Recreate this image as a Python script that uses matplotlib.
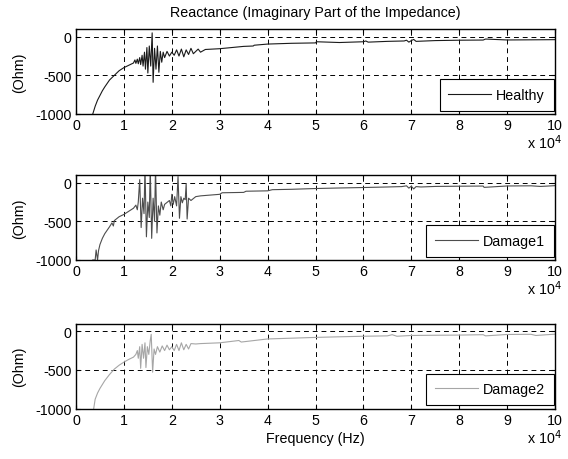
import matplotlib
matplotlib.use("Agg")
import matplotlib.pyplot as plt
from matplotlib.ticker import FixedLocator

plt.rcParams['font.family'] = ['Liberation Sans', 'DejaVu Sans']

# Frequencies in units of 1e4 Hz, reactance in Ohm
healthy_f = [0.35, 0.40, 0.45, 0.50, 0.55, 0.60, 0.70, 0.80, 0.90, 1.00, 1.10,
             1.20, 1.23, 1.25, 1.28, 1.30, 1.33, 1.35, 1.38, 1.40, 1.43, 1.45,
             1.48, 1.50, 1.53, 1.56, 1.59, 1.61, 1.64, 1.67, 1.70, 1.73, 1.76,
             1.79, 1.82, 1.85, 1.90, 1.95, 2.00, 2.05, 2.10, 2.15, 2.20, 2.25,
             2.30, 2.35, 2.40, 2.45, 2.55, 2.60, 2.70, 3.00, 3.50, 3.70, 3.72,
             4.00, 4.50, 5.00, 5.02, 5.50, 6.00, 6.05, 6.10, 6.50, 6.85, 6.90,
             6.95, 7.00, 7.05, 7.10, 7.50, 8.00, 8.50, 8.55, 9.00, 9.50, 10.0]
healthy_z = [-1000, -900, -820, -760, -700, -650, -560, -500, -440, -400, -370,
             -340, -300, -345, -290, -350, -270, -360, -240, -380, -200, -420,
             -140, -470, -120, -380, 50, -590, -150, -420, -120, -460, -190,
             -330, -200, -270, -190, -250, -200, -240, -170, -250, -160, -260,
             -170, -230, -150, -220, -160, -200, -165, -155, -125, -120, -110,
             -95, -85, -80, -65, -75, -65, -55, -70, -60, -55, -45,
             -70, -50, -35, -60, -50, -45, -43, -30, -42, -40, -38]

damage1_f = [0.35, 0.40, 0.42, 0.45, 0.47, 0.50, 0.55, 0.60, 0.70, 0.75, 0.78,
             0.80, 0.90, 1.00, 1.10, 1.20, 1.25, 1.28, 1.30, 1.33, 1.36, 1.39,
             1.42, 1.44, 1.47, 1.50, 1.53, 1.55, 1.58, 1.61, 1.64, 1.66, 1.69,
             1.72, 1.75, 1.78, 1.82, 1.85, 1.95, 1.98, 2.00, 2.03, 2.06, 2.10,
             2.13, 2.16, 2.19, 2.22, 2.25, 2.28, 2.30, 2.32, 2.35, 2.40, 2.50,
             2.60, 3.00, 3.05, 3.50, 3.55, 4.00, 4.10, 4.50, 5.00, 5.50, 6.00,
             6.50, 6.80, 6.90, 6.95, 7.00, 7.05, 7.10, 7.20, 7.50, 8.00, 8.50,
             8.52, 9.00, 9.50, 9.70, 10.0]
damage1_z = [-1000, -1000, -870, -1000, -880, -800, -720, -660, -570, -520, -560,
             -490, -440, -410, -370, -330, -290, -350, -250, 40, -580, -200,
             -400, 200, -700, -250, -450, 200, -720, -200, -500, 200, -650,
             -300, -420, -250, -350, -280, -230, -300, -150, -280, -180, -300,
             80, -460, -180, -260, -200, -220, -10, -470, -200, -230, -180,
             -170, -150, -130, -125, -110, -105, -90, -85, -75, -68, -62,
             -55, -50, -40, -70, -45, -80, -50, -55, -48, -45, -43,
             -60, -42, -40, -48, -38]

damage2_f = [0.37, 0.40, 0.45, 0.50, 0.55, 0.60, 0.70, 0.80, 0.90, 1.00, 1.10,
             1.20, 1.25, 1.28, 1.30, 1.33, 1.35, 1.38, 1.41, 1.44, 1.46, 1.49,
             1.52, 1.55, 1.57, 1.60, 1.63, 1.66, 1.70, 1.75, 1.80, 1.85, 1.90,
             1.95, 2.00, 2.05, 2.10, 2.15, 2.20, 2.25, 2.30, 2.35, 2.40, 2.50,
             2.60, 3.00, 3.40, 3.45, 4.00, 4.50, 5.00, 5.50, 6.00, 6.50, 6.60,
             6.70, 7.00, 7.50, 8.00, 8.50, 8.55, 9.00, 9.50, 9.60, 10.0]
damage2_z = [-1000, -880, -800, -740, -690, -640, -560, -490, -440, -400, -365,
             -335, -300, -250, -350, -200, -480, -170, -350, -150, -470, -200,
             -300, -120, -40, -530, -230, -300, -200, -270, -190, -250, -180,
             -240, -200, -250, -170, -250, -150, -240, -170, -230, -160, -165,
             -160, -150, -120, -140, -100, -90, -80, -72, -65, -60, -45,
             -65, -55, -52, -50, -45, -60, -42, -40, -55, -38]

series = [("Healthy", healthy_f, healthy_z, "#1a1a1a"),
          ("Damage1", damage1_f, damage1_z, "#4d4d4d"),
          ("Damage2", damage2_f, damage2_z, "#a6a6a6")]

xticks = list(range(0, 11))
yticks = [-1000, -500, 0]

W, H = 568, 460
FS = 10.3
fig = plt.figure(figsize=(W / 100, H / 100), dpi=100)

tops = [30, 176, 324.5]
ax_h = 85
left, right = 76, 555

for i, (name, f, z, col) in enumerate(series):
    top = tops[i]
    ax = fig.add_axes([left / W, 1 - (top + ax_h) / H, (right - left) / W, ax_h / H])
    ax.plot([v * 1e4 for v in f], z, color=col, lw=0.8, label=name)
    ax.set_xlim(0, 1e5)
    ax.set_ylim(-1000, 100)
    ax.xaxis.set_major_locator(FixedLocator([t * 1e4 for t in xticks]))
    ax.set_xticklabels([str(t) for t in xticks])
    ax.yaxis.set_major_locator(FixedLocator(yticks))
    ax.set_yticklabels([str(t) for t in yticks])
    ax.tick_params(direction='in', length=3, width=0.8, top=True, right=True,
                   labelsize=FS, pad=3, colors='black')
    ax.grid(True, color='black', linestyle=(0, (5, 4)), linewidth=0.7)
    for s in ax.spines.values():
        s.set_linewidth(1.0)
        s.set_color('black')
    ax.set_ylabel("(Ohm)", fontsize=FS, labelpad=7)
    leg = ax.legend(loc='lower right', bbox_to_anchor=(1 - 1.5 / (right - left), 3.5 / ax_h),
                    fontsize=FS, frameon=True, fancybox=False,
                    edgecolor='black', handlelength=3.0, handletextpad=0.35,
                    borderpad=0.6, borderaxespad=0.0, framealpha=1)
    leg.get_frame().set_linewidth(0.8)
    fig.text(527 / W, 1 - (top + ax_h + 28) / H, r"x 10$^4$", fontsize=FS,
             ha='left', va='center')
    if i == 0:
        ax.set_title("Reactance (Imaginary Part of the Impedance)", fontsize=FS, pad=9)
    if i == 2:
        ax.set_xlabel("Frequency (Hz)", fontsize=FS, labelpad=3)

fig.savefig("out.png", dpi=100)
